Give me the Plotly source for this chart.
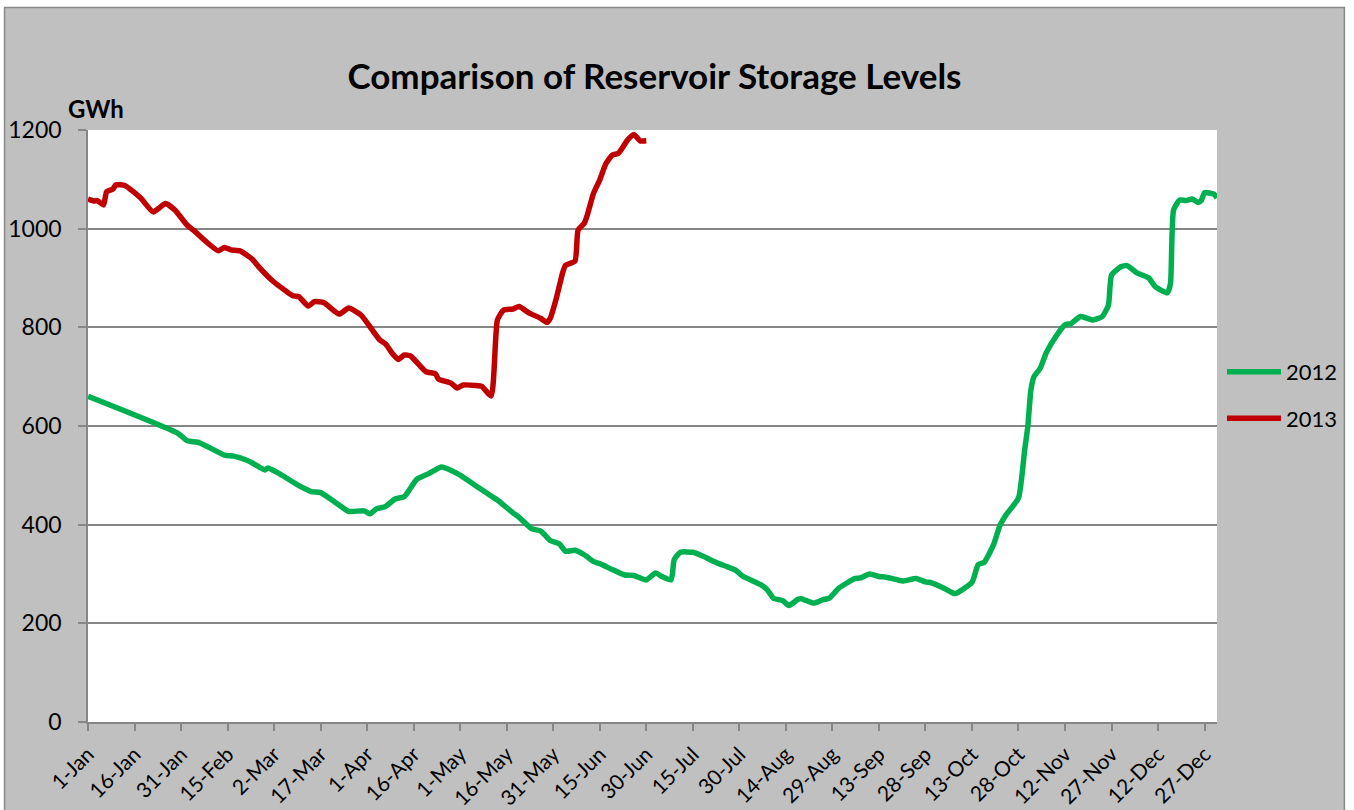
import plotly.graph_objects as go

# ---- data (day-of-year index, GWh) ----
tick_days = list(range(0, 361, 15))
tick_labels = ["1-Jan", "16-Jan", "31-Jan", "15-Feb", "2-Mar", "17-Mar", "1-Apr", "16-Apr",
               "1-May", "16-May", "31-May", "15-Jun", "30-Jun", "15-Jul", "30-Jul", "14-Aug",
               "29-Aug", "13-Sep", "28-Sep", "13-Oct", "28-Oct", "12-Nov", "27-Nov", "12-Dec",
               "27-Dec"]

days_2012 = [0, 29, 32, 36, 44, 47, 51, 53, 57, 58, 61, 68, 72, 75, 80, 84, 89, 91, 93, 96,
             99, 102, 106, 110, 114, 119, 121, 125, 130, 132, 137, 139, 143, 146, 149, 152,
             154, 157, 160, 163, 165, 169, 173, 176, 180, 183, 185, 188, 189, 191, 195, 198,
             203, 206, 209, 211, 217, 219, 221, 224, 226, 229, 230, 234, 237, 239, 242, 247,
             249, 252, 255, 257, 261, 263, 267, 270, 272, 276, 279, 280, 285, 287, 289, 292,
             294, 296, 300, 302, 303, 304, 305, 307, 309, 312, 315, 317, 320, 324, 327, 329,
             330, 333, 335, 338, 342, 344, 348, 349, 350, 352, 354, 356, 358, 359, 360, 363, 364]
gwh_2012 = [660, 585, 570, 566, 541, 539, 531, 525, 511, 515, 506, 479, 467, 465, 444, 427, 428,
            422, 432, 437, 452, 457, 492, 504, 517, 504, 496, 479, 458, 450, 424, 415, 392, 387,
            368, 361, 346, 348, 339, 325, 321, 309, 298, 297, 288, 302, 295, 288, 329, 344, 344,
            337, 322, 315, 307, 296, 278, 268, 251, 246, 236, 249, 250, 241, 248, 251, 271, 290,
            292, 300, 295, 294, 288, 286, 291, 284, 282, 271, 261, 261, 283, 319, 324, 360, 398,
            420, 454, 552, 599, 673, 700, 717, 749, 781, 805, 808, 822, 815, 822, 845, 906, 923,
            925, 911, 900, 883, 870, 889, 1038, 1058, 1057, 1060, 1053, 1058, 1073, 1070, 1062]

days_2013 = [0, 2, 3, 5, 6, 8, 9, 12, 17, 21, 25, 28, 32, 34, 38, 42, 44, 46, 49, 53, 55, 59,
             62, 66, 68, 71, 73, 76, 81, 84, 88, 94, 96, 98, 100, 102, 104, 109, 112, 113, 117,
             119, 121, 125, 127, 130, 132, 134, 137, 139, 142, 146, 148, 149, 151, 153, 154,
             157, 158, 160, 161, 163, 165, 167, 169, 171, 174, 176, 178, 180]
gwh_2013 = [1060, 1056, 1057, 1048, 1075, 1080, 1089, 1087, 1062, 1034, 1051, 1038, 1007, 997,
            974, 955, 962, 957, 955, 938, 923, 897, 882, 864, 862, 843, 852, 850, 827, 839, 825,
            775, 766, 748, 735, 744, 742, 710, 706, 695, 687, 677, 683, 682, 680, 661, 815, 835,
            837, 842, 830, 818, 810, 818, 859, 910, 926, 934, 997, 1011, 1028, 1072, 1099, 1132,
            1149, 1153, 1180, 1191, 1178, 1178]

FONT = "Lato"
GRID = "#868686"

fig = go.Figure()
fig.add_trace(go.Scatter(x=days_2012, y=gwh_2012, name="2012", mode="lines",
                         legendgroup="a",
                         line=dict(color="#00B050", width=5.5, shape="spline", smoothing=0.5)))
fig.add_trace(go.Scatter(x=days_2013, y=gwh_2013, name="2013", mode="lines",
                         legendgroup="b",
                         line=dict(color="#C00000", width=5.5, shape="spline", smoothing=0.5)))

W, H = 1354, 810
L, R, T, B = 88, 1218, 130, 722.3
pw, ph = R - L, B - T


def px_x(p):
    return (p - L) / pw


def px_y(p):
    return (B - p) / ph


fig.update_layout(
    width=W, height=H,
    margin=dict(l=L, r=W - R, t=T, b=H - B),
    paper_bgcolor="white",
    plot_bgcolor="white",
    font=dict(family=FONT, size=22, color="black"),
    title=dict(text="<b>Comparison of Reservoir Storage Levels</b>",
               x=px_x(655), xref="paper", xanchor="center",
               y=1 - 77 / H, yref="container", yanchor="middle",
               font=dict(family=FONT, size=35, color="black")),
    showlegend=True,
    legend=dict(x=px_x(1222), xanchor="left", y=px_y(351), yanchor="top",
                bgcolor="rgba(0,0,0,0)", font=dict(family=FONT, size=22),
                itemwidth=54,
                tracegroupgap=15, traceorder="grouped"),
    xaxis=dict(range=[0, 364], tickmode="array", tickvals=tick_days, ticktext=tick_labels,
               tickangle=-45, ticks="outside", ticklen=7, tickcolor=GRID, tickwidth=1.5,
               showline=True, linecolor=GRID, linewidth=1.5, showgrid=False, zeroline=False,
               automargin=False, ticklabelstandoff=3,
               tickfont=dict(family=FONT, size=21)),
    yaxis=dict(range=[0, 1200], tickmode="linear", tick0=0, dtick=200,
               ticks="outside", ticklen=8, tickcolor=GRID, tickwidth=1.5,
               showline=True, linecolor=GRID, linewidth=1.5,
               showgrid=True, gridcolor=GRID, gridwidth=1.5, zeroline=False,
               automargin=False,
               ticklabelstandoff=12, tickfont=dict(family=FONT, size=23)),
    shapes=[
        dict(type="rect", xref="paper", yref="paper", layer="below",
             x0=px_x(4.5), x1=px_x(1345.5), y0=px_y(830), y1=px_y(7.5),
             fillcolor="#C0C0C0", line=dict(color="#888888", width=1.5)),
        dict(type="rect", xref="paper", yref="paper", layer="below",
             x0=0, x1=1, y0=0, y1=1, fillcolor="white", line=dict(width=0)),
    ],
    annotations=[
        dict(text="<b>GWh</b>", xref="paper", yref="paper", x=px_x(66), y=px_y(108),
             xanchor="left", yanchor="middle", showarrow=False,
             font=dict(family=FONT, size=24, color="black")),
    ],
)

fig.write_html("out.html", config={"displayModeBar": False},
               post_script="document.body.style.margin='0';")
